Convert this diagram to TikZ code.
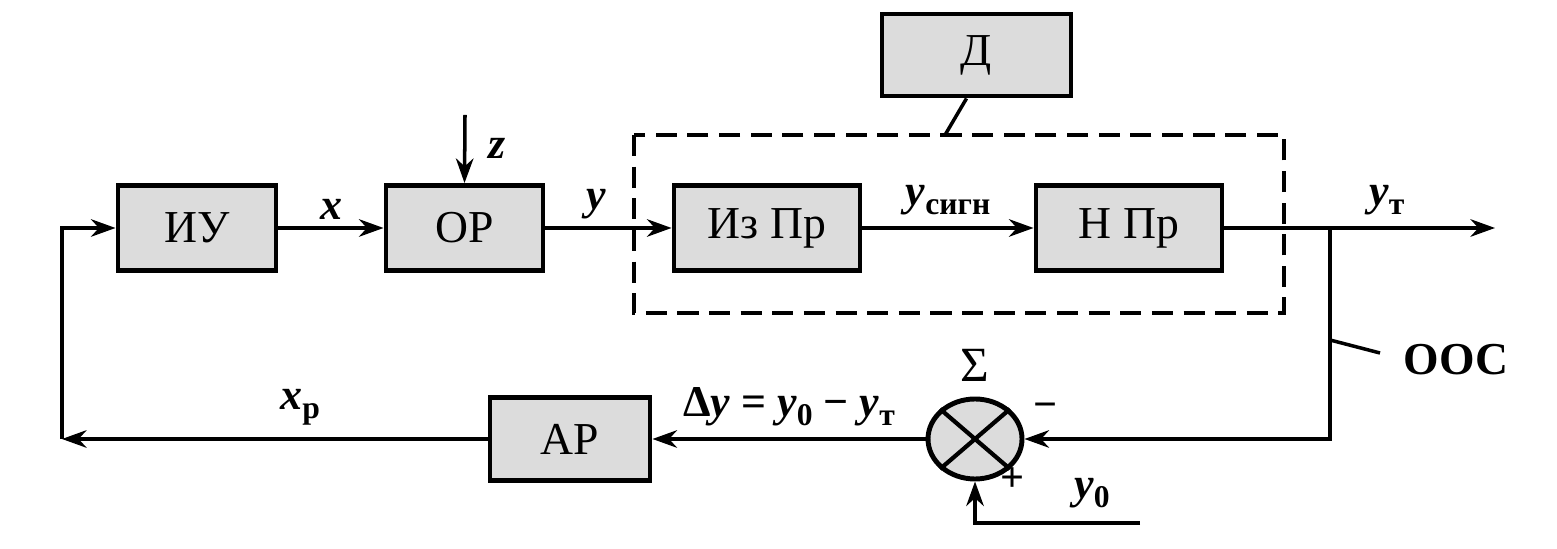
\documentclass[tikz,border=0pt]{standalone}
\usepackage{fontspec}
\setmainfont{Liberation Serif}
\usetikzlibrary{arrows.meta, positioning, shapes.geometric}
\definecolor{boxfill}{HTML}{DCDCDC}
\newcommand{\vsub}[2]{\textbf{\textit{#1}}\raisebox{-0.45ex}{\small\bfseries #2}}

\begin{document}
\begin{tikzpicture}[
    line width=1pt,
    blk/.style={draw, line width=1.4pt, fill=boxfill, minimum height=0.85cm, inner sep=0, font=\fontsize{13}{15}\selectfont},
    lbl/.style={font=\fontsize{12.5}{14}\selectfont\bfseries\itshape, inner sep=2pt},
    sig/.style={font=\fontsize{12.5}{14}\selectfont},
    >={Stealth[length=7pt, width=5pt]}
]
\useasboundingbox (0,0) rectangle (15.57,5.49);

\node[blk, minimum width=1.58cm] (iu) at (1.97,3.21) {ИУ};
\node[blk, minimum width=1.57cm] (op) at (4.645,3.21) {ОР};
\node[blk, minimum width=1.86cm] (izpr) at (7.67,3.21) {Из Пр};
\node[blk, minimum width=1.86cm] (npr) at (11.29,3.21) {Н Пр};
\node[blk, minimum width=1.89cm, minimum height=0.82cm] (d) at (9.765,4.94) {Д};
\node[blk, minimum width=1.60cm, minimum height=0.83cm] (ar) at (5.70,1.10) {АР};
\node[draw, line width=1.4pt, fill=boxfill, ellipse, minimum width=0.94cm, minimum height=0.80cm, inner sep=0] (sum) at (9.75,1.10) {};
\draw[line width=1.2pt] (sum.north east) -- (sum.south west);
\draw[line width=1.2pt] (sum.north west) -- (sum.south east);

\coordinate (zin) at (4.65,4.34);
\coordinate (br) at (13.30,3.21);
\coordinate (out) at (14.95,3.21);
\coordinate (corner) at (0.62,1.10);
\coordinate (y0in) at (11.40,0.26);
\coordinate (dtap) at (9.45,4.14);
\coordinate (oocA) at (13.30,2.09);
\coordinate (oocB) at (13.80,1.96);

\draw[line width=1.2pt, dash pattern=on 6pt off 3pt] (6.34,4.14) rectangle (12.84,2.36);
\draw ([xshift=-1mm]d.south) -- (dtap);

\draw[->] (zin) -- (op.north);
\node[lbl] (zl) at (4.97,4.01) {z};
\draw[->] (iu) -- (op) node[lbl, midway, above] {x};
\draw[->] (op) -- (izpr) node[lbl, pos=0.4, above] {y};
\draw[->] (izpr) -- (npr) node[midway, above, sig] {\vsub{y}{сигн}};
\draw[->] (npr) -- (out) node[pos=0.6, above, sig] {\vsub{y}{т}};

\draw[->] (br) |- (sum.east);
\draw (oocA) -- (oocB);
\node[sig, font=\fontsize{13}{15}\selectfont\bfseries] (ooc) at (14.56,1.89) {ООС};

\draw[->] (y0in) -| (sum.south);
\draw[->] (sum.west) -- (ar.east) node[midway, above, sig] {\textbf{Δ\textit{y} = }\vsub{y}{0}\textbf{ − }\vsub{y}{т}};
\node[above=0.02cm of sum, sig, font=\fontsize{14}{16}\selectfont] (sigma) {Σ};
\node[sig, font=\fontsize{12}{14}\selectfont\bfseries] (minus) at (10.45,1.38) {−};
\node[sig, font=\fontsize{12}{14}\selectfont\bfseries] (plus) at (10.12,0.69) {+};
\node[sig] (y0l) at (10.92,0.56) {\vsub{y}{0}};

\draw[->] (ar) -- (corner) node[pos=0.44, above, sig] {\vsub{x}{p}};
\draw[->] (corner) |- (iu.west);
\end{tikzpicture}
\end{document}
